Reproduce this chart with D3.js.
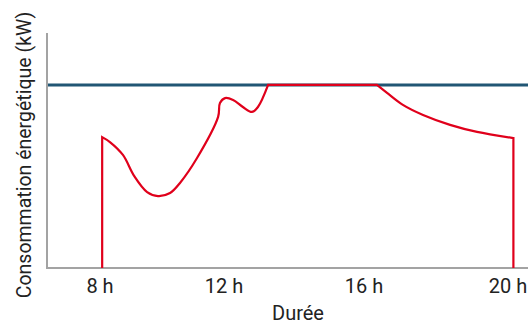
<!DOCTYPE html>
<html><head><meta charset="utf-8">
<script src="https://cdn.jsdelivr.net/npm/d3@7"></script>
<style>
html,body{margin:0;padding:0;background:#fff;}
svg{display:block;font-family:Roboto,sans-serif;}
</style></head>
<body>
<script>
// Data (hours, kW in arbitrary units 0-100)
const tickHours = [8, 12, 16, 20];
const tickLabels = ["8 h", "12 h", "16 h", "20 h"];
const limitValue = 77.9;
// rising part of the load curve (morning)
const riseHours = [8.07, 8.32, 8.74, 9.1, 9.52, 9.87, 10.26, 10.58, 11.13, 11.81, 11.87, 12.03, 12.26, 12.54, 12.8, 12.97, 13.26];
const riseValues = [55.7, 53.6, 48.1, 39.2, 32.3, 30.6, 31.9, 36.2, 46.8, 64.3, 70.2, 72.3, 71.5, 68.5, 66.4, 68.5, 77.9];
// falling part of the load curve (afternoon)
const fallHours = [16.36, 16.64, 17.08, 17.64, 18.39, 19.14, 20.15];
const fallValues = [77.9, 74.5, 69.4, 65.1, 60.9, 57.9, 55.3];

const W = 528, H = 324;
const svg = d3.select("body").append("svg").attr("width", W).attr("height", H);

const x = d3.scaleLinear().domain([8, 12, 16, 20]).range([100, 224, 364, 508]);
const y = d3.scaleLinear().domain([0, 100]).range([268, 33]);
const x0 = 47, xEnd = W;

// Axes lines
svg.append("line").attr("x1", x0).attr("x2", x0).attr("y1", y(100)).attr("y2", y(0) + 1)
  .attr("stroke", "#a3a3a3").attr("stroke-width", 2);
svg.append("line").attr("x1", x0 - 1).attr("x2", xEnd).attr("y1", y(0)).attr("y2", y(0))
  .attr("stroke", "#a3a3a3").attr("stroke-width", 2);

// Tick labels
svg.selectAll("text.tick").data(tickHours).join("text")
  .attr("class", "tick")
  .attr("x", d => x(d)).attr("y", 293)
  .attr("text-anchor", "middle")
  .attr("font-size", 20).attr("fill", "#222")
  .text((d, i) => tickLabels[i]);

// Limit line
svg.append("line").attr("x1", x0 + 1).attr("x2", xEnd).attr("y1", y(limitValue)).attr("y2", y(limitValue))
  .attr("stroke", "#215674").attr("stroke-width", 3);

// Load curve
const rise = riseHours.map((h, i) => [h, riseValues[i]]);
const fall = fallHours.map((h, i) => [h, fallValues[i]]);
const line = d3.line().x(d => x(d[0])).y(d => y(d[1])).curve(d3.curveCatmullRom.alpha(0.5));
const risePath = line(rise);
const fallPath = line(fall);
const first = rise[0], last = fall[fall.length - 1];
const path = "M" + x(first[0]) + "," + y(0) + "L" + risePath.slice(1) +
  "L" + fallPath.slice(1) + "L" + x(last[0]) + "," + y(0);
svg.append("path").attr("d", path).attr("fill", "none")
  .attr("stroke", "#e0001b").attr("stroke-width", 2.2).attr("stroke-linejoin", "miter");

// Axis titles
svg.append("text").attr("x", 298).attr("y", 320).attr("text-anchor", "middle")
  .attr("font-size", 20).attr("fill", "#222").text("Durée");
svg.append("text").attr("transform", "translate(31,155) rotate(-90)").attr("text-anchor", "middle")
  .attr("font-size", 19.5).attr("fill", "#222").text("Consommation énergétique (kW)");
</script>
</body></html>
